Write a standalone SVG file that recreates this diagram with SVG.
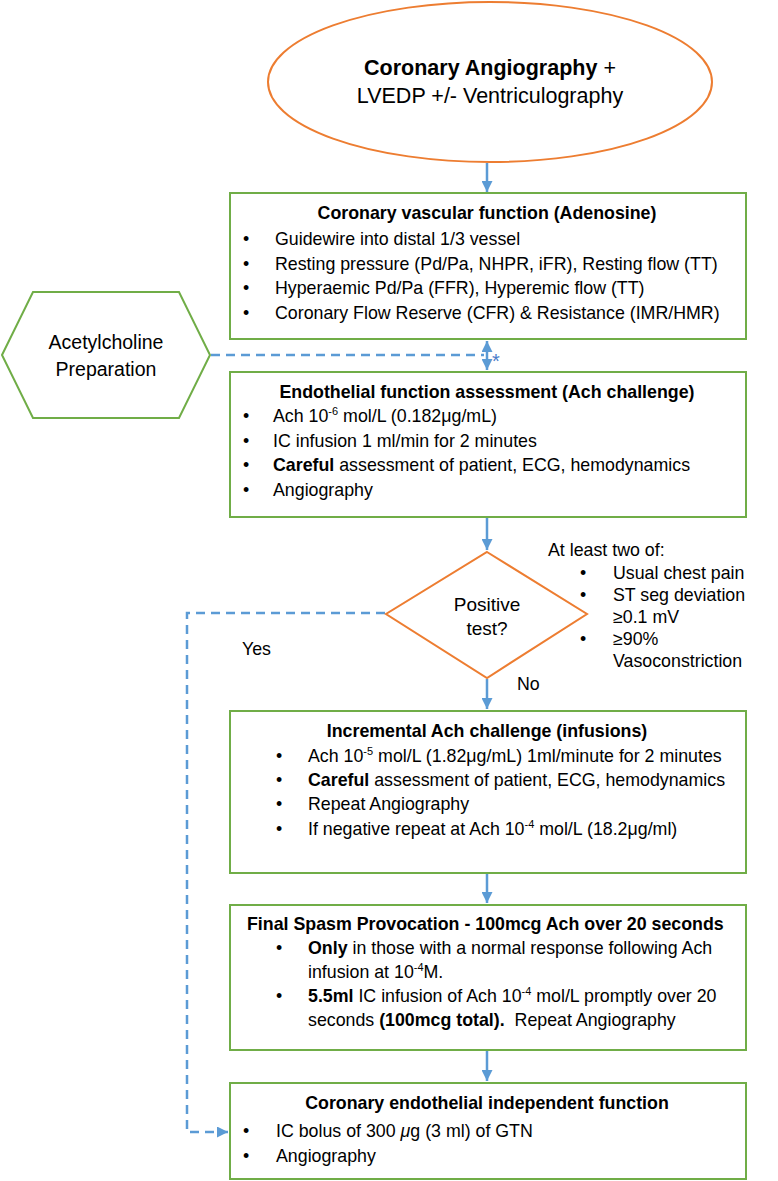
<svg xmlns="http://www.w3.org/2000/svg" width="778" height="1181" viewBox="0 0 778 1181">
<defs>
<style>
text{font-family:"Liberation Sans",Arial,sans-serif;font-size:17.8px;fill:#000}
.b{font-weight:bold}
.box{fill:#fff;stroke:#70AD47;stroke-width:2}
.or{fill:#fff;stroke:#ED7D31;stroke-width:2}
.con{stroke:#5B9BD5;stroke-width:2.5;fill:none}
.dash{stroke:#5B9BD5;stroke-width:2.5;fill:none;stroke-dasharray:9 6}
.sup{font-size:11px}
.ast{fill:#4A7CC9;font-size:20px}
</style>
<marker id="ah" viewBox="0 0 10 10" refX="10" refY="5" markerWidth="4.4" markerHeight="4.4" orient="auto-start-reverse" markerUnits="strokeWidth">
<path d="M0,0 L10,5 L0,10 z" fill="#5B9BD5"/>
</marker>
</defs>

<g id="connectors">
<line class="con" x1="487" y1="163" x2="487" y2="192" marker-end="url(#ah)"/>
<line class="con" x1="487" y1="341" x2="487" y2="370" marker-start="url(#ah)" marker-end="url(#ah)"/>
<line class="dash" x1="211" y1="355" x2="484" y2="355"/>
<text class="ast" x="492" y="368">*</text>
<line class="con" x1="487" y1="518" x2="487" y2="550" marker-end="url(#ah)"/>
<line class="con" x1="487" y1="679" x2="487" y2="709" marker-end="url(#ah)"/>
<line class="con" x1="487" y1="874" x2="487" y2="903" marker-end="url(#ah)"/>
<line class="con" x1="487" y1="1051" x2="487" y2="1081" marker-end="url(#ah)"/>
<polyline class="dash" points="385,613 187,613 187,1132 228,1132" marker-end="url(#ah)"/>
<text x="242" y="655">Yes</text>
<text x="517" y="690">No</text>
</g>

<g id="start">
<ellipse class="or" cx="490" cy="82" rx="222" ry="80"/>
<text x="490" y="75" text-anchor="middle" style="font-size:21.5px"><tspan class="b">Coronary Angiography</tspan> +</text>
<text x="490" y="103" text-anchor="middle" style="font-size:21.5px">LVEDP +/- Ventriculography</text>
</g>

<g id="adenosine">
<rect class="box" x="230" y="193" width="516" height="146"/>
<text class="b" x="487" y="219" text-anchor="middle">Coronary vascular function (Adenosine)</text>
<text x="243" y="245">•</text><text x="275" y="245">Guidewire into distal 1/3 vessel</text>
<text x="243" y="270">•</text><text x="275" y="270">Resting pressure (Pd/Pa, NHPR, iFR), Resting flow (TT)</text>
<text x="243" y="294">•</text><text x="275" y="294">Hyperaemic Pd/Pa (FFR), Hyperemic flow (TT)</text>
<text x="243" y="319">•</text><text x="275" y="319">Coronary Flow Reserve (CFR) &amp; Resistance (IMR/HMR)</text>
</g>

<g id="ach-prep">
<polygon class="box" points="2,355 33,292 179,292 210,355 179,418 33,418"/>
<text x="106" y="349" text-anchor="middle" style="font-size:19.5px">Acetylcholine</text>
<text x="106" y="376" text-anchor="middle" style="font-size:19.5px">Preparation</text>
</g>

<g id="endothelial">
<rect class="box" x="230" y="372" width="516" height="145"/>
<text class="b" x="487" y="398" text-anchor="middle">Endothelial function assessment (Ach challenge)</text>
<text x="243" y="422">•</text><text x="273" y="422">Ach 10<tspan class="sup" dy="-7">-6</tspan><tspan dy="7"> mol/L (0.182μg/mL)</tspan></text>
<text x="243" y="447">•</text><text x="273" y="447">IC infusion 1 ml/min for 2 minutes</text>
<text x="243" y="471">•</text><text x="273" y="471"><tspan class="b">Careful</tspan> assessment of patient, ECG, hemodynamics</text>
<text x="243" y="496">•</text><text x="273" y="496">Angiography</text>
</g>

<g id="decision">
<polygon class="or" points="487,552 587,614 487,678 386,614"/>
<text x="487" y="611" text-anchor="middle" style="font-size:19px">Positive</text>
<text x="487" y="635" text-anchor="middle" style="font-size:19px">test?</text>
</g>

<g id="criteria">
<text x="548" y="556">At least two of:</text>
<text x="580" y="579">•</text><text x="613" y="579">Usual chest pain</text>
<text x="580" y="601">•</text><text x="613" y="601">ST seg deviation</text>
<text x="613" y="623">≥0.1 mV</text>
<text x="580" y="645">•</text><text x="613" y="645">≥90%</text>
<text x="613" y="667">Vasoconstriction</text>
</g>

<g id="incremental">
<rect class="box" x="230" y="711" width="516" height="162"/>
<text class="b" x="487" y="737" text-anchor="middle">Incremental Ach challenge (infusions)</text>
<text x="276" y="762">•</text><text x="308" y="762">Ach 10<tspan class="sup" dy="-7">-5</tspan><tspan dy="7"> mol/L (1.82μg/mL) 1ml/minute for 2 minutes</tspan></text>
<text x="276" y="786">•</text><text x="308" y="786"><tspan class="b">Careful</tspan> assessment of patient, ECG, hemodynamics</text>
<text x="276" y="810">•</text><text x="308" y="810">Repeat Angiography</text>
<text x="276" y="835">•</text><text x="308" y="835">If negative repeat at Ach 10<tspan class="sup" dy="-7">-4</tspan><tspan dy="7"> mol/L (18.2μg/ml)</tspan></text>
</g>

<g id="final-spasm">
<rect class="box" x="230" y="905" width="516" height="145"/>
<text class="b" x="247" y="930">Final Spasm Provocation - 100mcg Ach over 20 seconds</text>
<text x="276" y="954">•</text><text x="308" y="954"><tspan class="b">Only</tspan> in those with a normal response following Ach</text>
<text x="308" y="978">infusion at 10<tspan class="sup" dy="-7">-4</tspan><tspan dy="7">M.</tspan></text>
<text x="276" y="1002">•</text><text x="308" y="1002"><tspan class="b">5.5ml</tspan> IC infusion of Ach 10<tspan class="sup" dy="-7">-4</tspan><tspan dy="7"> mol/L promptly over 20</tspan></text>
<text x="308" y="1026">seconds <tspan class="b">(100mcg total).</tspan>&#160; Repeat Angiography</text>
</g>

<g id="gtn">
<rect class="box" x="230" y="1083" width="516" height="96"/>
<text class="b" x="487" y="1109" text-anchor="middle">Coronary endothelial independent function</text>
<text x="243" y="1137">•</text><text x="276" y="1137">IC bolus of 300 <tspan font-style="italic">μ</tspan>g (3 ml) of GTN</text>
<text x="243" y="1162">•</text><text x="276" y="1162">Angiography</text>
</g>
</svg>
